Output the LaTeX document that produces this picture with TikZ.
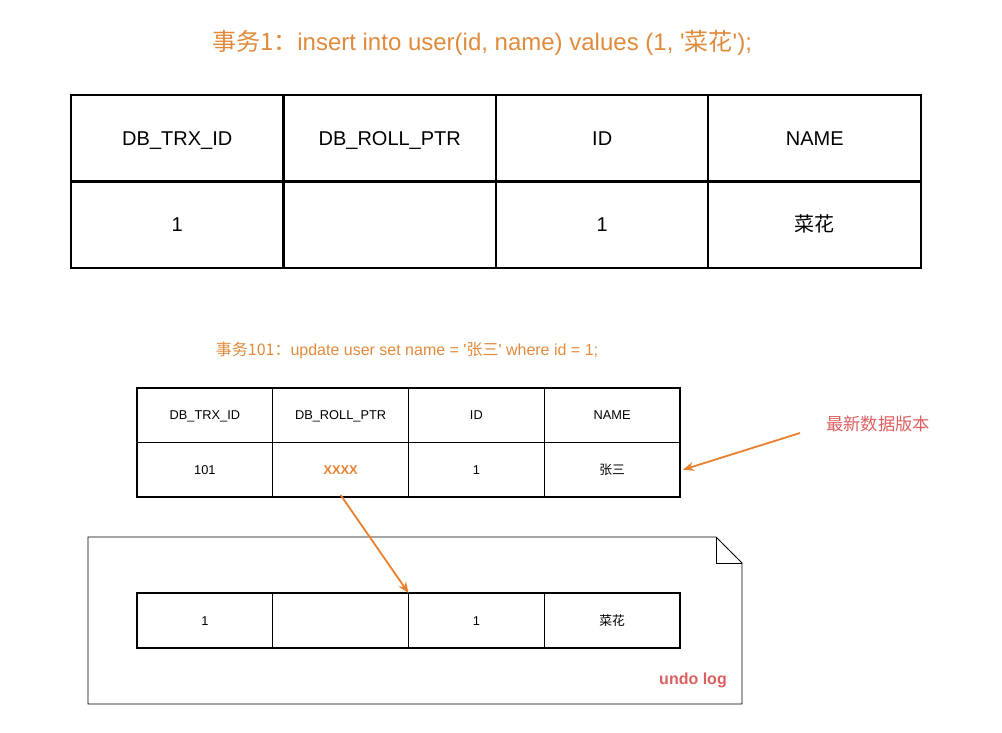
\documentclass[tikz,border=0pt]{standalone}
\usepackage{fontspec}
\setmainfont{Liberation Sans}
\newfontfamily\cjk{Noto Sans CJK SC}
\usetikzlibrary{positioning,arrows.meta}
\newcommand\zh[1]{{\cjk #1}}
\definecolor{sqlorange}{HTML}{E08A3C}
\definecolor{arroworange}{HTML}{E9802E}
\definecolor{notered}{HTML}{DC5F5F}
\tikzset{
  % node options
  cell/.style={rectangle,draw,line width=2pt,outer sep=0pt,inner sep=0pt,
    text height=15.3pt,text depth=1pt,
    minimum width=212.5pt,minimum height=86.5pt,font=\fontsize{20}{24}\selectfont},
  smallcell/.style={cell,line width=1.1pt,minimum width=135.75pt,
    text height=9.7pt,text depth=0.5pt,
    minimum height=54.5pt,font=\fontsize{12.8}{15}\selectfont},
  undocell/.style={smallcell,minimum height=55pt},
  sql/.style={text=sqlorange},
  note/.style={text=notered},
  % path options
  pointer/.style={-{Stealth[length=11pt,width=9pt]},arroworange,line width=1.8pt},
  doc/.style={draw,line width=0.8pt},
  % matrix options
  big table/.style={inner sep=0pt,outer sep=0pt,row sep=-2pt,column sep=-2pt},
  small table/.style={inner sep=0pt,outer sep=0pt,row sep=-1.1pt,column sep=-1.1pt},
}

\begin{document}
\begin{tikzpicture}[x=1pt,y=-1pt]
    \useasboundingbox (0,0) rectangle (1002,733);
    \node[sql,font=\fontsize{24}{28}\selectfont] (title) at (482,43)
      {\zh{事务1：}insert into user(id, name) values (1, \textquotesingle\zh{菜花}\textquotesingle);};
    \matrix[big table] (first) at (496,181.5) {
      \node[cell] (trx1) {DB\_TRX\_ID}; & \node[cell] (ptr1) {DB\_ROLL\_PTR}; &
      \node[cell] (id1) {ID}; & \node[cell] (name1) {NAME}; \\
      \node[cell] (trxv1) {1}; & \node[cell] (ptrv1) {}; &
      \node[cell] (idv1) {1}; & \node[cell] (namev1) {\zh{菜花}}; \\
    };
    \node[sql,font=\fontsize{16}{19}\selectfont] (update) at (407,350)
      {\zh{事务101：}update user set name = \textquotesingle\zh{张三}\textquotesingle{} where id = 1;};
    \matrix[small table] (latest) at (408.5,442.5) {
      \node[smallcell] (trx2) {DB\_TRX\_ID}; & \node[smallcell] (ptr2) {DB\_ROLL\_PTR}; &
      \node[smallcell] (id2) {ID}; & \node[smallcell] (name2) {NAME}; \\
      \node[smallcell] (trxv2) {101}; & \node[smallcell,text=arroworange,font=\fontsize{12.8}{15}\bfseries] (ptrv2) {XXXX}; &
      \node[smallcell] (idv2) {1}; & \node[smallcell] (namev2) {\zh{张三}}; \\
    };
    \node[note,font=\fontsize{17.3}{20}\selectfont] (newest) at (878,424) {\zh{最新数据版本}};
    \coordinate (tail) at (800,433);
    \draw[pointer] (tail) -- ([xshift=3pt]namev2.east);
    % undo log page
    \draw[doc] (88,537) -- (716,537) -- (742,563) -- (742,704) -- (88,704) -- cycle;
    \draw[doc] (716,537) -- (716,563) -- (742,563);
    \matrix[small table] (undo) at (408.5,620.5) {
      \node[undocell] (trx3) {1}; & \node[undocell] (ptr3) {}; &
      \node[undocell] (id3) {1}; & \node[undocell] (name3) {\zh{菜花}}; \\
    };
    \node[note,font=\fontsize{16}{19}\bfseries] (undolog) at (693,680) {undo log};
    \draw[pointer] ([yshift=2pt]ptrv2.south) -- (id3.north west);
\end{tikzpicture}
\end{document}
